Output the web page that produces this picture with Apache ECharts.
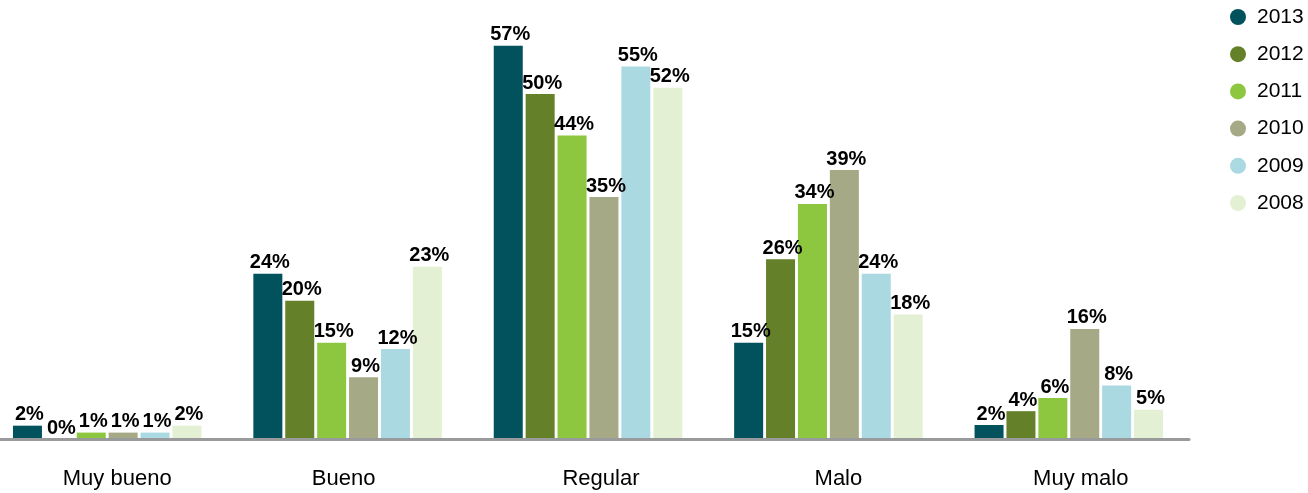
<!DOCTYPE html>
<html>
<head>
<meta charset="utf-8">
<script src="https://cdn.jsdelivr.net/npm/echarts@6/dist/echarts.min.js"></script>
<style>
html,body{margin:0;padding:0;background:#fff;}
#chart{width:1308px;height:493px;}
</style>
</head>
<body>
<div id="chart"></div>
<script>
// Categories (x axis)
var categories = ['Muy bueno', 'Bueno', 'Regular', 'Malo', 'Muy malo'];
// Series names (legend)
var years = ['2013', '2012', '2011', '2010', '2009', '2008'];
// Bar heights as drawn (percent)
var v2013 = [2.0, 24.0, 57.0, 14.0, 2.1];
var v2012 = [0.0, 20.1, 50.0, 26.1, 4.1];
var v2011 = [1.0, 14.0, 44.0, 34.1, 6.0];
var v2010 = [1.0, 9.0, 35.1, 39.0, 16.0];
var v2009 = [1.0, 13.1, 54.0, 24.0, 7.8];
var v2008 = [2.0, 25.0, 50.9, 18.1, 4.3];
// Printed value labels
var l2013 = ['2%', '24%', '57%', '15%', '2%'];
var l2012 = ['0%', '20%', '50%', '26%', '4%'];
var l2011 = ['1%', '15%', '44%', '34%', '6%'];
var l2010 = ['1%', '9%', '35%', '39%', '16%'];
var l2009 = ['1%', '12%', '55%', '24%', '8%'];
var l2008 = ['2%', '23%', '52%', '18%', '5%'];

var values = [v2013, v2012, v2011, v2010, v2009, v2008];
var labels = [l2013, l2012, l2011, l2010, l2009, l2008];
var colors = ['#02525e', '#648028', '#8dc63f', '#a5a985', '#abd9e1', '#e3f0d3'];

var chart = echarts.init(document.getElementById('chart'), null, {renderer: 'canvas'});

var series = years.map(function (y, i) {
  return {
    name: y,
    type: 'bar',
    data: values[i],
    barWidth: 29,
    barGap: '10%',
    itemStyle: {color: colors[i]},
    label: {
      show: true,
      position: 'top',
      distance: 1,
      offset: [2, 0],
      color: '#000',
      fontFamily: 'Liberation Sans',
      fontWeight: 'bold',
      fontSize: 20,
      formatter: function (p) { return labels[i][p.dataIndex]; }
    }
  };
});

var option = {
  animation: false,
  backgroundColor: '#fff',
  color: colors,
  legend: {
    orient: 'vertical',
    left: 1225,
    top: 1,
    icon: 'circle',
    itemWidth: 28,
    itemHeight: 16,
    itemGap: 15.2,
    textStyle: {
      fontFamily: 'Liberation Sans',
      fontSize: 21,
      lineHeight: 22,
      color: '#000'
    },
    data: years
  },
  grid: {left: -13, right: 119, top: 25, bottom: 53.5, containLabel: false, outerBoundsMode: 'none'},
  xAxis: {
    type: 'category',
    data: categories,
    z: 5,
    axisLine: {show: true, lineStyle: {color: '#999a9c', width: 3}},
    axisTick: {show: false},
    axisLabel: {
      margin: 28,
      color: '#000',
      fontFamily: 'Liberation Sans',
      fontSize: 22,
      formatter: function (v, idx) { return '{s' + idx + '|' + v + '}'; },
      rich: {
        s0: {padding: [0, 0, 0, 20]},
        s1: {padding: [0, 8, 0, 0]},
        s2: {padding: [0, 0, 0, 26]},
        s3: {padding: [0, 0, 0, 20]},
        s4: {padding: [0, 0, 0, 24]}
      }
    }
  },
  yAxis: {
    type: 'value',
    min: 0,
    max: 60,
    show: false,
    splitLine: {show: false}
  },
  series: series
};
chart.setOption(option);
</script>
</body>
</html>
